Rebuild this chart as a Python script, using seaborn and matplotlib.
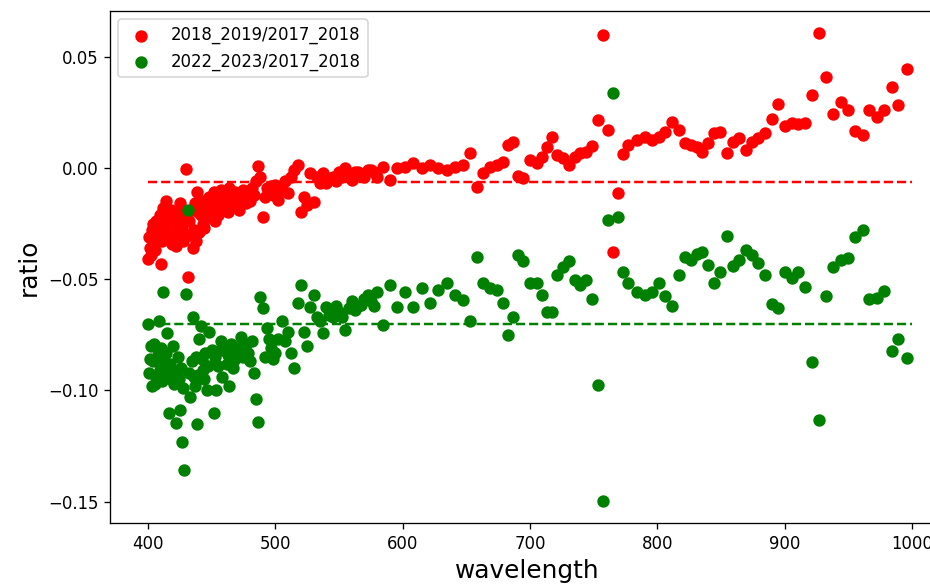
import matplotlib
matplotlib.use("Agg")
import matplotlib.pyplot as plt
import seaborn as sns

# ---- data ----
wavelength = [
    400.0, 401.7, 403.3, 405.0, 406.7, 408.3, 410.0, 411.7, 413.3, 415.0,
    416.7, 418.3, 420.0, 421.7, 423.3, 425.0, 426.7, 428.3, 430.0, 431.7,
    433.3, 435.0, 436.7, 438.3, 440.0, 441.7, 443.3, 445.0, 446.7, 448.3,
    450.0, 451.7, 453.3, 455.0, 456.7, 458.3, 460.0, 461.7, 463.3, 465.0,
    466.7, 468.3, 470.0, 471.7, 473.3, 475.0, 476.7, 478.3, 480.0, 481.7,
    483.3, 485.0, 486.7, 488.3, 490.0, 491.7, 493.3, 495.0, 496.7, 498.3,
    500.0, 502.5, 505.0, 507.5, 510.0, 512.5, 515.0, 517.5, 520.0, 522.5,
    525.0, 527.5, 530.0, 532.5, 535.0, 537.5, 540.0, 542.5, 545.0, 547.5,
    550.0, 552.5, 555.0, 557.5, 560.0, 562.5, 565.0, 567.5, 570.0, 572.5,
    575.0, 577.5, 580.0,
    584.6, 590.1, 595.6, 601.8, 608.1, 615.2, 621.5, 627.8, 634.8, 641.1,
    647.4, 652.9, 658.4, 663.1, 668.6, 674.1, 678.8, 682.7, 686.7, 690.6,
    694.5, 700.0, 705.5, 709.4, 713.4, 717.3, 721.2, 725.9, 730.7, 735.4,
    739.3, 744.0, 748.7, 753.4, 757.4, 761.3, 765.2, 769.1, 773.1, 777.0,
    784.1, 790.3,
    795.8, 801.3, 806.0, 811.5, 817.0, 821.8, 826.5, 831.2, 835.1, 839.8,
    844.5, 849.3, 854.7, 859.5, 864.2, 869.7, 874.4, 879.1, 884.6, 890.1,
    894.8, 900.3, 905.8, 910.5, 916.0, 921.5, 927.0, 932.5, 938.0, 944.3,
    949.8, 955.3, 961.6, 966.3, 972.6, 978.1, 984.3, 989.1, 996.1,
    # additional densely packed bands in the blue region
    400.8, 402.5, 404.2, 405.8, 407.5, 409.2, 410.8, 412.5, 414.2, 415.8,
    417.5, 419.2, 420.8, 422.5, 424.2, 425.8, 427.5, 432.5, 434.2, 435.8,
    437.5, 439.2, 442.5, 444.2, 447.5, 452.5, 457.5, 462.5,
]

ratio_2018_2019 = [
    -0.041, -0.036, -0.028, -0.033, -0.024, -0.030, -0.043, -0.018, -0.026, -0.021,
    -0.032, -0.019, -0.030, -0.035, -0.024, -0.016, -0.027, -0.022, -0.0005, -0.049,
    -0.030, -0.036, -0.016, -0.011, -0.029, -0.021, -0.025, -0.017, -0.022, -0.013,
    -0.020, -0.011, -0.016, -0.021, -0.014, -0.018, -0.012, -0.016, -0.009, -0.013,
    -0.017, -0.011, -0.014, -0.019, -0.013, -0.010, -0.016, -0.012, -0.015, -0.009,
    -0.012, -0.006, 0.001, -0.004, -0.022, -0.013, -0.009, -0.011, -0.008, -0.012,
    -0.0076, -0.0144, -0.0099, -0.006, -0.0112, -0.004, -0.0009, 0.0013, -0.0198, -0.013,
    -0.0166, -0.0022, -0.0153, -0.004, -0.007, -0.0022, -0.0067, -0.005, -0.004, -0.006,
    -0.0018, -0.004, 0.000, -0.003, -0.0054, -0.002, -0.0018, -0.003, -0.004, -0.001,
    -0.0009, -0.002, -0.004,
    0.0004, -0.0054, 0.0, 0.0004, 0.0022, 0.0, 0.0013, 0.0, -0.0009, 0.0004,
    0.0013, 0.0067, -0.0085, -0.0022, 0.0004, 0.0013, 0.0027, 0.0103, 0.0117, -0.0038,
    -0.0045, 0.0036, 0.0022, 0.0049, 0.0094, 0.0139, 0.0058, 0.0045, 0.0013, 0.0049,
    0.0067, 0.0072, 0.0099, 0.0216, 0.0597, 0.0171, -0.0377, -0.0112, 0.0063, 0.0103,
    0.0126, 0.0139,
    0.0126, 0.0139, 0.0162, 0.0207, 0.0171, 0.0112, 0.0103, 0.0094, 0.0072, 0.0112,
    0.0157, 0.0162, 0.0067, 0.0117, 0.0135, 0.0081, 0.0117, 0.0135, 0.0157, 0.0220,
    0.0287, 0.0189, 0.0202, 0.0198, 0.0202, 0.0328, 0.0606, 0.0409, 0.0242, 0.0296,
    0.0260, 0.0166, 0.0148, 0.0260, 0.0229, 0.0260, 0.0364, 0.0283, 0.0445,
    -0.031, -0.039, -0.025, -0.037, -0.028, -0.021, -0.033, -0.027, -0.015, -0.029,
    -0.024, -0.034, -0.021, -0.028, -0.031, -0.020, -0.033, -0.024, -0.019, -0.028,
    -0.033, -0.020, -0.015, -0.027, -0.019, -0.024, -0.010, -0.020,
]

ratio_2022_2023 = [
    -0.070, -0.086, -0.098, -0.079, -0.094, -0.069, -0.081, -0.056, -0.091, -0.074,
    -0.110, -0.095, -0.080, -0.1145, -0.085, -0.109, -0.123, -0.1356, -0.0566, -0.019,
    -0.103, -0.067, -0.098, -0.115, -0.077, -0.071, -0.091, -0.083, -0.0997, -0.0736,
    -0.082, -0.110, -0.0997, -0.089, -0.082, -0.094, -0.082, -0.088, -0.098, -0.079,
    -0.090, -0.086, -0.081, -0.083, -0.076, -0.085, -0.079, -0.083, -0.087, -0.078,
    -0.092, -0.104, -0.114, -0.058, -0.063, -0.085, -0.072, -0.077, -0.081, -0.086,
    -0.083, -0.077, -0.069, -0.078, -0.0736, -0.083, -0.0898, -0.0606, -0.0525, -0.0736,
    -0.080, -0.0624, -0.057, -0.0669, -0.069, -0.074, -0.0624, -0.066, -0.0669, -0.062,
    -0.0647, -0.067, -0.0727, -0.063, -0.060, -0.0638, -0.062, -0.0615, -0.059, -0.057,
    -0.060, -0.062, -0.056,
    -0.0705, -0.0525, -0.0624, -0.056, -0.0624, -0.054, -0.0606, -0.0548, -0.0516, -0.057,
    -0.0593, -0.069, -0.040, -0.0516, -0.054, -0.0548, -0.0606, -0.075, -0.0669, -0.039,
    -0.042, -0.0516, -0.0516, -0.057, -0.0647, -0.0647, -0.048, -0.0444, -0.042, -0.0503,
    -0.0525, -0.0503, -0.0588, -0.0974, -0.1495, -0.0233, 0.0337, -0.022, -0.0467, -0.0516,
    -0.056, -0.057,
    -0.056, -0.0516, -0.0575, -0.062, -0.048, -0.040, -0.0413, -0.0386, -0.0377, -0.0436,
    -0.0516, -0.0467, -0.0305, -0.044, -0.0413, -0.0368, -0.039, -0.0427, -0.048, -0.061,
    -0.0629, -0.0467, -0.0494, -0.0467, -0.0534, -0.0871, -0.1131, -0.0575, -0.0444, -0.0413,
    -0.0404, -0.031, -0.0278, -0.0588, -0.0584, -0.0552, -0.0822, -0.0768, -0.0853,
    -0.092, -0.080, -0.087, -0.097, -0.084, -0.091, -0.096, -0.087, -0.083, -0.093,
    -0.088, -0.091, -0.097, -0.092, -0.095, -0.090, -0.099, -0.092, -0.087, -0.094,
    -0.085, -0.093, -0.086, -0.095, -0.089, -0.085, -0.078, -0.084,
]

series_labels = ["2018_2019/2017_2018", "2022_2023/2017_2018"]
series_colors = ["red", "green"]
mean_levels = [-0.0062, -0.0703]   # dashed reference lines
line_span = [400, 1000]

# ---- figure ----
DPI = 119
fig = plt.figure(figsize=(930 / DPI, 586 / DPI), dpi=DPI)
ax = fig.add_axes([0.1183, 0.1075, 0.8978, 0.8737])

for vals, lab, col in zip([ratio_2018_2019, ratio_2022_2023], series_labels, series_colors):
    sns.scatterplot(x=wavelength, y=vals, color=col, s=36, edgecolor=col,
                    linewidth=1.5, label=lab, ax=ax, legend=False)

for lvl, col in zip(mean_levels, series_colors):
    ax.hlines(lvl, line_span[0], line_span[1], colors=col, linestyles="--", linewidth=1.5)

ax.set_xlim(370.2, 1025.9)
ax.set_ylim(-0.1596, 0.0705)
ax.set_xticks([400, 500, 600, 700, 800, 900, 1000])
ax.set_yticks([-0.15, -0.10, -0.05, 0.00, 0.05])
ax.set_xlabel("wavelength", fontsize=15)
ax.set_ylabel("ratio", fontsize=15)
ax.legend(loc="upper left")

fig.savefig("out.png", dpi=DPI)
